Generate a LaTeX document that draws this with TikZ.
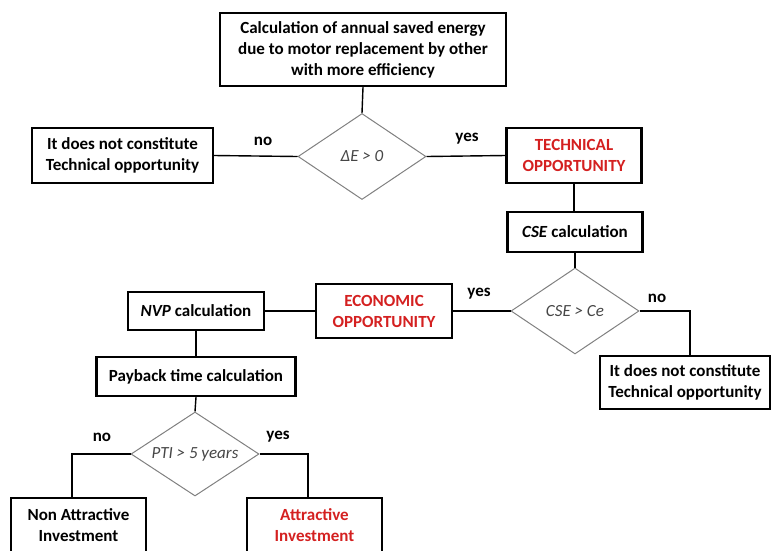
\documentclass[tikz,border=0pt]{standalone}
\usepackage{fontspec}
\setmainfont{Carlito}
\usetikzlibrary{shapes.geometric}
\definecolor{redtxt}{RGB}{212,32,32}
\definecolor{dgray}{RGB}{128,128,128}
\definecolor{dtext}{RGB}{70,70,70}
\tikzset{
  box/.style={draw=black, line width=2.2pt, rectangle, inner sep=0pt, align=center,
    font=\bfseries\fontsize{17}{21}\selectfont},
  dec/.style={draw=dgray, line width=1pt, diamond, inner sep=0pt, aspect=1.5,
    text=dtext, font=\itshape\fontsize{17}{20}\selectfont},
  conn/.style={draw=black, line width=1.4pt},
  lbl/.style={font=\bfseries\fontsize{17}{20}\selectfont, inner sep=0pt},
  red/.style={text=redtxt}
}
\begin{document}
\begin{tikzpicture}[x=1pt,y=-1pt]
\useasboundingbox (0,0) rectangle (771,550);
\begin{scope}
\clip (0,0) rectangle (771,550);
\node[box, minimum width=286, minimum height=73] (top) at (363,49.5)
  {Calculation of annual saved energy\\due to motor replacement by other\\with more efficiency};
\node[dec, minimum width=128, minimum height=86] (d1) at (362,156.5) {ΔE > 0};
\node[box, minimum width=181, minimum height=55] (nt1) at (122.5,155.5)
  {It does not constitute\\Technical opportunity};
\node[box, red, minimum width=135, minimum height=55] (tech) at (574,155.5)
  {TECHNICAL\\OPPORTUNITY};
\node[box, minimum width=135, minimum height=40] (cse) at (575,232)
  {\textit{CSE} calculation};
\node[dec, minimum width=128, minimum height=86] (d2) at (575,311) {CSE > Ce};
\node[box, minimum width=170, minimum height=53] (nt2) at (685,382.5)
  {It does not constitute\\Technical opportunity};
\node[box, red, minimum width=136, minimum height=54] (econ) at (384,311)
  {ECONOMIC\\OPPORTUNITY};
\node[box, minimum width=136, minimum height=38] (nvp) at (196,311)
  {\textit{NVP} calculation};
\node[box, minimum width=199, minimum height=39] (pay) at (196,376.5)
  {Payback time calculation};
\node[dec, minimum width=128, minimum height=84] (d3) at (195,454) {PTI > 5 years};
\node[box, minimum width=135, minimum height=55] (nai) at (78.5,525.5)
  {Non Attractive\\Investment};
\node[box, red, minimum width=135, minimum height=55] (ai) at (314.5,525.5)
  {Attractive\\Investment};

\draw[conn] (top.south) -- (d1.north);
\draw[conn] (d1.west) -- (nt1.east);
\draw[conn] (d1.east) -- (tech.west);
\draw[conn] (tech.south) -- (tech.south |- cse.north);
\draw[conn] (cse.south) -- (d2.north);
\draw[conn] (d2.west) -- (econ.east);
\draw[conn] (d2.east) -| ([xshift=5pt]nt2.north);
\draw[conn] (econ.west) -- (nvp.east);
\draw[conn] (nvp.south) -- (pay.north);
\draw[conn] (pay.south) -- (d3.north);
\draw[conn] (d3.west) -| ([xshift=-6.5pt]nai.north);
\draw[conn] (d3.east) -| ([xshift=-6.5pt]ai.north);

\node[lbl] (l1) at (263,141) {no};
\node[lbl] (l2) at (467,139) {yes};
\node[lbl] (l3) at (479,294) {yes};
\node[lbl] (l4) at (657,298) {no};
\node[lbl] (l5) at (102,437) {no};
\node[lbl] (l6) at (278,437) {yes};
\end{scope}
\end{tikzpicture}
\end{document}
